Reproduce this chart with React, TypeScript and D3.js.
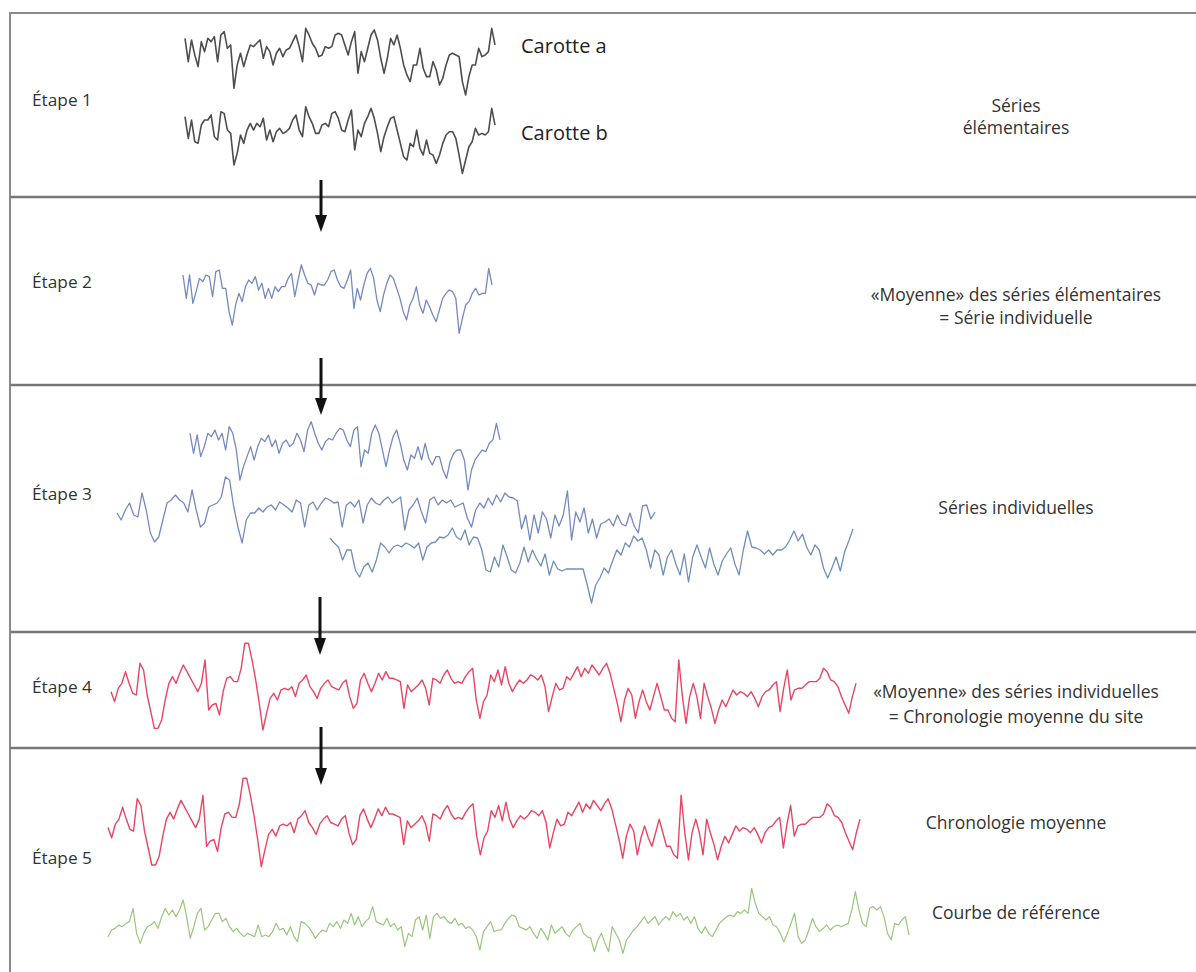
import React from "react";
import * as d3 from "d3";

// ---------- DATA (ring-width indices) ----------
const carotteA = [36,22,35,26,19,34,28,36,34,37,22,38,40,30,32,6,20,27,19,26,32,31,33,35,24,31,28,20,27,30,25,29,30,34,38,31,22,42,38,33,30,25,26,31,30,31,38,39,38,32,26,34,40,15,28,22,30,38,41,35,24,15,24,36,32,38,30,20,14,10,20,20,30,18,13,13,22,17,8,12,20,26,27,26,25,10,2,13,20,20,30,25,26,28,42,32];
const carotteB = [36,23,34,21,20,31,34,34,37,24,22,39,38,28,26,7,14,25,20,28,32,28,32,30,35,22,28,21,27,29,26,27,29,34,37,28,24,42,36,32,26,26,31,32,30,38,39,35,28,27,34,40,16,28,24,32,36,41,35,26,15,24,30,35,36,28,20,12,10,20,18,28,17,13,22,14,13,8,13,20,25,27,27,23,13,2,10,18,21,29,25,26,25,27,41,31];
const serieIndividuelle = [36,22,36,19,26,34,32,36,35,23,38,39,28,28,14,6,18,25,20,29,33,31,35,27,31,22,28,22,29,26,29,29,34,37,23,33,42,36,31,30,24,31,30,30,33,38,39,33,29,28,33,39,16,28,21,30,37,40,34,21,14,24,31,36,34,28,22,14,9,18,22,29,18,13,21,17,12,8,15,22,25,27,26,22,1,10,18,20,25,28,24,25,25,40,30];
const seriesA = [34,22,33,20,26,34,32,36,30,34,24,38,34,24,6,14,20,26,18,26,31,29,33,26,30,22,28,30,26,28,34,30,23,36,41,34,28,24,29,31,30,34,37,36,30,26,36,38,14,24,22,34,39,34,24,14,24,32,36,28,18,12,21,19,26,18,28,19,15,20,20,12,7,17,22,24,24,18,0,12,18,21,24,23,28,30,40,30];
const seriesB = [32,25,35,42,30,28,52,35,12,3,8,25,42,45,50,45,42,33,55,35,18,22,38,40,42,48,68,65,38,18,2,25,32,32,37,33,38,40,35,43,40,37,33,45,42,18,40,43,35,42,47,45,42,43,18,40,43,38,45,22,40,47,42,40,45,48,42,45,48,15,35,40,47,33,22,45,48,40,45,42,45,38,40,42,27,18,35,42,37,47,40,50,43,52,48,47,44,16,30,5,30,12,33,26,7,30,19,30,54,5,33,23,37,12,26,7,21,23,26,19,30,21,19,32,19,12,39,40,26,33];
const seriesC = [67,62,58,45,55,55,35,28,38,42,33,45,62,58,52,58,60,58,62,60,57,62,45,58,62,63,68,67,70,77,68,65,75,60,68,67,55,35,33,48,38,60,48,35,32,42,58,43,55,46,39,51,30,44,36,34,36,36,36,36,36,20,2,20,27,37,32,44,55,50,62,58,69,64,67,55,37,55,50,30,48,55,41,30,51,23,48,60,48,37,57,41,30,44,51,57,41,30,55,74,58,57,55,51,55,50,55,55,58,65,74,64,71,58,50,60,55,37,27,37,48,34,53,64,76];
const chronologieMoyenne = [23,17,25,28,35,28,22,21,40,36,21,11,1,1,6,18,28,32,28,34,39,35,31,27,23,28,42,12,15,16,9,23,31,32,29,29,37,52,52,42,30,16,0,10,19,22,18,24,25,24,26,20,28,30,33,26,23,19,25,28,30,26,25,24,28,30,20,13,16,30,34,28,23,28,34,30,35,31,31,30,29,13,27,23,25,27,30,25,15,31,30,28,33,36,31,28,29,28,32,35,37,18,7,17,21,33,29,36,27,38,28,23,27,30,28,30,33,32,30,33,26,11,20,28,24,25,32,30,34,38,32,37,34,39,36,33,37,40,34,25,16,5,18,25,21,7,17,24,17,12,20,28,20,12,12,7,5,42,20,4,20,28,20,7,28,20,13,4,12,18,14,19,24,21,23,22,20,23,19,14,20,23,24,27,29,11,25,36,18,24,25,25,27,29,29,29,31,37,35,30,29,26,20,15,10,20,28];
const courbeReference = [12,16,17,19,18,20,21,29,14,8,14,18,19,21,17,24,29,25,28,24,28,34,24,11,18,26,29,16,18,22,26,26,21,23,18,15,17,14,12,14,13,12,19,12,13,12,15,20,16,17,13,18,12,9,21,20,18,15,11,14,16,15,20,18,21,17,22,20,26,19,24,18,21,23,30,21,20,19,23,18,20,16,18,6,14,12,22,24,16,25,11,24,26,23,24,21,20,23,19,20,17,18,16,12,4,15,18,21,15,16,16,20,23,25,24,18,17,16,18,14,11,17,14,10,19,14,16,18,14,12,16,18,20,14,12,11,3,10,14,8,3,18,14,10,2,10,13,16,18,21,24,20,22,24,19,22,24,22,27,24,26,22,24,20,24,17,14,18,14,12,16,20,22,24,25,24,27,26,28,26,41,32,26,24,22,24,19,18,14,9,14,20,26,12,8,10,16,23,18,15,17,19,16,18,19,18,19,20,28,39,28,20,18,29,30,28,30,24,14,10,20,19,22,24,13];

const etapes = ["Étape 1", "Étape 2", "Étape 3", "Étape 4", "Étape 5"];

// ---------- LAYOUT ----------
const W = 1196;
const H = 972;
const FONT = "'Open Sans', 'Noto Sans', sans-serif";

const GRAY = "#4d4d4d";
const BLUE = "#7589c0";
const BLUE2 = "#6f8fb8";
const RED = "#ea4560";
const GREEN = "#98c67a";

type SeriesSpec = {
  data: number[];
  x0: number; x1: number;
  yBottom: number; yTop: number; vTop: number;
  color: string; width: number;
};

const series: SeriesSpec[] = [
  { data: carotteA, x0: 185, x1: 495, yBottom: 98.3, yTop: 28.3, vTop: 42, color: GRAY, width: 1.6 },
  { data: carotteB, x0: 185, x1: 495, yBottom: 176.7, yTop: 106.7, vTop: 42, color: GRAY, width: 1.6 },
  { data: serieIndividuelle, x0: 183, x1: 492, yBottom: 335, yTop: 265, vTop: 42, color: BLUE, width: 1.3 },
  { data: seriesA, x0: 190, x1: 500, yBottom: 490, yTop: 423.3, vTop: 40, color: BLUE, width: 1.3 },
  { data: seriesB, x0: 117, x1: 655, yBottom: 545, yTop: 445, vTop: 100, color: BLUE, width: 1.3 },
  { data: seriesC, x0: 330, x1: 853, yBottom: 605, yTop: 505, vTop: 100, color: BLUE2, width: 1.3 },
  { data: chronologieMoyenne, x0: 111, x1: 856, yBottom: 730, yTop: 643.3, vTop: 52, color: RED, width: 1.4 },
  { data: chronologieMoyenne, x0: 108, x1: 860, yBottom: 866.7, yTop: 778.3, vTop: 52, color: RED, width: 1.4 },
  { data: courbeReference, x0: 108, x1: 909, yBottom: 956.7, yTop: 888.3, vTop: 41, color: GREEN, width: 1.2 },
];

const separators = [197, 385, 632, 748];
const etapeY = [106, 288, 500, 693, 864];

const arrows = [
  { x: 321, y0: 180, y1: 232 },
  { x: 321, y0: 358, y1: 415 },
  { x: 320, y0: 597, y1: 655 },
  { x: 321, y0: 727, y1: 785 },
];

const rightLabels: { text: string; y: number }[] = [
  { text: "Séries", y: 112 },
  { text: "élémentaires", y: 134 },
  { text: "«Moyenne» des séries élémentaires", y: 301 },
  { text: "= Série individuelle", y: 324 },
  { text: "Séries individuelles", y: 514 },
  { text: "«Moyenne» des séries individuelles", y: 698 },
  { text: "= Chronologie moyenne du site", y: 723 },
  { text: "Chronologie moyenne", y: 829 },
  { text: "Courbe de référence", y: 919 },
];

function linePath(s: SeriesSpec): string {
  const x = d3.scaleLinear().domain([0, s.data.length - 1]).range([s.x0, s.x1]);
  const y = d3.scaleLinear().domain([0, s.vTop]).range([s.yBottom, s.yTop]);
  const gen = d3.line<number>().x((_, i) => x(i)).y((d) => y(d)).curve(d3.curveLinear);
  return gen(s.data) || "";
}

export default function App() {
  return (
    <svg
      width={W}
      height={H}
      viewBox={`0 0 ${W} ${H}`}
      style={{ position: "absolute", left: 0, top: 0, background: "#fff" }}
      fontFamily={FONT}
    >
      <rect x={0} y={0} width={W} height={H} fill="#fff" />
      {/* frame */}
      <line x1={10} y1={12} x2={10} y2={H} stroke="#8a8a8a" strokeWidth={2} />
      <line x1={10} y1={13} x2={W} y2={13} stroke="#8a8a8a" strokeWidth={2} />
      {separators.map((y) => (
        <line key={y} x1={10} y1={y} x2={W} y2={y} stroke="#777" strokeWidth={2.4} />
      ))}

      {/* series */}
      {series.map((s, i) => (
        <path key={i} d={linePath(s)} fill="none" stroke={s.color} strokeWidth={s.width} strokeLinejoin="round" />
      ))}

      {/* arrows */}
      {arrows.map((a, i) => (
        <g key={i}>
          <line x1={a.x} y1={a.y0} x2={a.x} y2={a.y1 - 14} stroke="#111" strokeWidth={3} />
          <path d={`M${a.x - 6},${a.y1 - 17} L${a.x + 6},${a.y1 - 17} L${a.x},${a.y1} Z`} fill="#111" />
        </g>
      ))}

      {/* stage labels */}
      {etapes.map((t, i) => (
        <text key={t} x={32} y={etapeY[i]} fontSize={17} fill="#333" textLength={60} lengthAdjust="spacingAndGlyphs">{t}</text>
      ))}

      <text x={521} y={53} fontSize={20} fill="#222">Carotte a</text>
      <text x={521} y={140} fontSize={20} fill="#222">Carotte b</text>

      {rightLabels.map((l, i) => (
        <text key={i} x={1016} y={l.y} fontSize={17.5} fill="#333" textAnchor="middle">{l.text}</text>
      ))}
    </svg>
  );
}
